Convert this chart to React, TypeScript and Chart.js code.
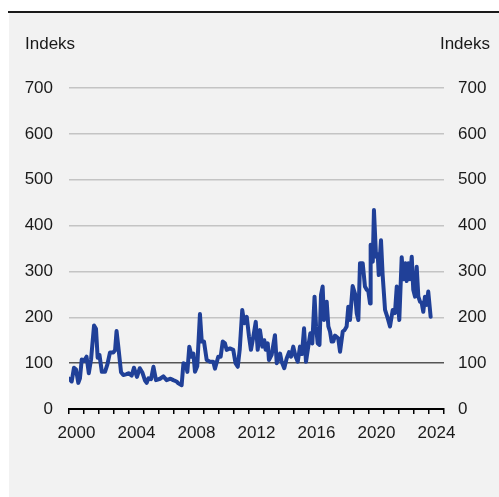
import { useEffect, useRef } from "react";
import { Chart, registerables } from "chart.js";

Chart.register(...registerables);

// Time in decimal years, index values
const years: number[] = [
  2000.0, 2000.18, 2000.33, 2000.47, 2000.62, 2000.73, 2000.85, 2001.0, 2001.17, 2001.32,
  2001.47, 2001.67, 2001.8, 2001.91, 2002.03, 2002.19, 2002.4, 2002.55, 2002.73, 2002.95,
  2003.07, 2003.17, 2003.29, 2003.47, 2003.62, 2003.85, 2003.97, 2004.18, 2004.33, 2004.53,
  2004.72, 2004.9, 2005.07, 2005.18, 2005.3, 2005.47, 2005.63, 2005.8, 2006.07, 2006.29,
  2006.51, 2006.77, 2006.95, 2007.17, 2007.29, 2007.51, 2007.63, 2007.8, 2007.89, 2008.02,
  2008.18, 2008.29, 2008.4, 2008.55, 2008.73, 2008.85, 2009.0, 2009.18, 2009.4, 2009.62,
  2009.73, 2009.95, 2010.11, 2010.25, 2010.4, 2010.51, 2010.73, 2010.95, 2011.1, 2011.25,
  2011.38, 2011.55, 2011.69, 2011.85, 2012.0, 2012.13, 2012.29, 2012.45, 2012.58, 2012.73,
  2012.89, 2013.02, 2013.11, 2013.25, 2013.33, 2013.51, 2013.73, 2013.85, 2013.95, 2014.07,
  2014.18, 2014.35, 2014.51, 2014.67, 2014.8, 2014.95, 2015.1, 2015.25, 2015.4, 2015.53,
  2015.67, 2015.8, 2015.95, 2016.09, 2016.22, 2016.37, 2016.47, 2016.58, 2016.7, 2016.8,
  2016.91, 2017.0, 2017.18, 2017.29, 2017.4, 2017.51, 2017.62, 2017.73, 2017.95, 2018.07,
  2018.25, 2018.37, 2018.51, 2018.62, 2018.73, 2018.91, 2019.07, 2019.18, 2019.29, 2019.4,
  2019.58, 2019.73, 2019.85, 2019.95, 2020.07, 2020.11, 2020.25, 2020.33, 2020.47, 2020.58,
  2020.65, 2020.8, 2020.91, 2021.07, 2021.22, 2021.4, 2021.58, 2021.73, 2021.85, 2022.02,
  2022.18, 2022.29, 2022.42, 2022.51, 2022.62, 2022.73, 2022.85, 2022.95, 2023.07, 2023.18,
  2023.29, 2023.4, 2023.51, 2023.62, 2023.73, 2023.85, 2023.95, 2024.11,
];

const values: number[] = [
  66, 60, 90, 86, 57, 67, 108, 105, 114, 78,
  108, 182, 175, 112, 118, 81, 81, 96, 123, 123,
  128, 170, 135, 80, 74, 76, 78, 73, 90, 70,
  89, 79, 62, 57, 67, 65, 92, 63, 66, 71,
  63, 66, 63, 60, 56, 52, 100, 97, 81, 136,
  114, 121, 81, 93, 207, 147, 147, 107, 103, 103,
  88, 114, 114, 147, 143, 129, 132, 129, 100, 92,
  129, 216, 187, 201, 158, 129, 158, 190, 129, 172,
  136, 150, 129, 143, 107, 118, 161, 100, 110, 121,
  103, 89, 110, 124, 114, 136, 115, 103, 136, 120,
  176, 103, 136, 165, 143, 245, 180, 143, 140, 249,
  267, 194, 234, 180, 169, 147, 147, 160, 154, 125,
  169, 172, 180, 223, 194, 268, 251, 209, 194, 318,
  318, 267, 260, 258, 230, 358, 321, 434, 332, 338,
  292, 368, 292, 216, 201, 180, 216, 209, 267, 194,
  331, 283, 318, 279, 318, 283, 332, 260, 245, 310,
  245, 234, 232, 212, 245, 227, 256, 201,
];

const yTickValues: number[] = [0, 100, 200, 300, 400, 500, 600, 700];
const xLabelYears: number[] = [2000, 2004, 2008, 2012, 2016, 2020, 2024];
const axisTitle = "Indeks";

const FONT = '"Liberation Sans", Arial, sans-serif';
const TEXT = "#1a1a1a";
const LINE = "rgb(32,64,152)";

export default function App() {
  const ref = useRef<HTMLCanvasElement | null>(null);

  useEffect(() => {
    document.body.style.margin = "0";
    const canvas = ref.current;
    if (!canvas) return;

    const titlePlugin = {
      id: "axisTitles",
      afterDraw(chart: any) {
        const ctx = chart.ctx;
        ctx.save();
        ctx.font = `17px ${FONT}`;
        ctx.fillStyle = TEXT;
        ctx.textBaseline = "alphabetic";
        ctx.textAlign = "left";
        ctx.fillText(axisTitle, 25, 49);
        ctx.textAlign = "right";
        ctx.fillText(axisTitle, 490, 49);
        ctx.restore();
      },
    };

    const tickFont = { family: FONT, size: 17 };

    const chart = new Chart(canvas, {
      type: "line",
      data: {
        datasets: [
          {
            data: years.map((x, i) => ({ x, y: values[i] })),
            borderColor: LINE,
            borderWidth: 4,
            pointRadius: 0,
            tension: 0,
            borderJoinStyle: "round",
            borderCapStyle: "round",
            fill: false,
          },
        ],
      },
      options: {
        animation: false,
        responsive: false,
        events: [],
        layout: { padding: { top: 88, bottom: 58, left: 0, right: 0 } },
        plugins: { legend: { display: false }, tooltip: { enabled: false }, title: { display: false } },
        scales: {
          x: {
            type: "linear",
            min: 2000,
            max: 2025,
            afterBuildTicks: (scale: any) => {
              const t = [];
              for (let v = 2000; v <= 2025; v++) t.push({ value: v });
              scale.ticks = t;
            },
            afterFit: (scale: any) => {
              scale.height = 30;
            },
            ticks: {
              autoSkip: false,
              maxRotation: 0,
              minRotation: 0,
              labelOffset: 7.5,
              padding: 9,
              font: tickFont,
              color: TEXT,
              callback: (v: any) => (xLabelYears.includes(Number(v)) ? String(v) : ""),
            },
            grid: {
              drawOnChartArea: false,
              drawTicks: true,
              tickLength: 5,
              color: "#000",
              lineWidth: 1.5,
            },
            border: { display: true, color: "#000", width: 2 },
          },
          y: {
            type: "linear",
            position: "left",
            min: 0,
            max: 700,
            afterBuildTicks: (scale: any) => {
              scale.ticks = yTickValues.map((v) => ({ value: v }));
            },
            afterFit: (scale: any) => {
              scale.width = 69;
            },
            ticks: { font: tickFont, color: TEXT, padding: 16 },
            grid: {
              drawTicks: false,
              lineWidth: 1.5,
              color: (ctx: any) =>
                ctx.tick && ctx.tick.value === 100
                  ? "#555555"
                  : ctx.tick && ctx.tick.value === 0
                  ? "rgba(0,0,0,0)"
                  : "#c4c4c4",
            },
            border: { display: false },
          },
          y2: {
            type: "linear",
            position: "right",
            min: 0,
            max: 700,
            afterBuildTicks: (scale: any) => {
              scale.ticks = yTickValues.map((v) => ({ value: v }));
            },
            afterFit: (scale: any) => {
              scale.width = 55;
            },
            ticks: { font: tickFont, color: TEXT, padding: 14 },
            grid: { display: false, drawTicks: false },
            border: { display: false },
          },
        },
      },
      plugins: [titlePlugin],
    } as any);

    return () => chart.destroy();
  }, []);

  return (
    <div style={{ position: "relative", width: 499, height: 497, background: "#fff", overflow: "hidden" }}>
      <div style={{ position: "absolute", left: 8, top: 11, width: 491, height: 2, background: "#1a1a1a" }} />
      <div style={{ position: "absolute", left: 9, top: 13, right: 0, bottom: 0, background: "#f2f2f2" }} />
      <canvas
        ref={ref}
        width={499}
        height={497}
        style={{ position: "absolute", left: 0, top: 0, display: "block", width: 499, height: 497 }}
      />
    </div>
  );
}
